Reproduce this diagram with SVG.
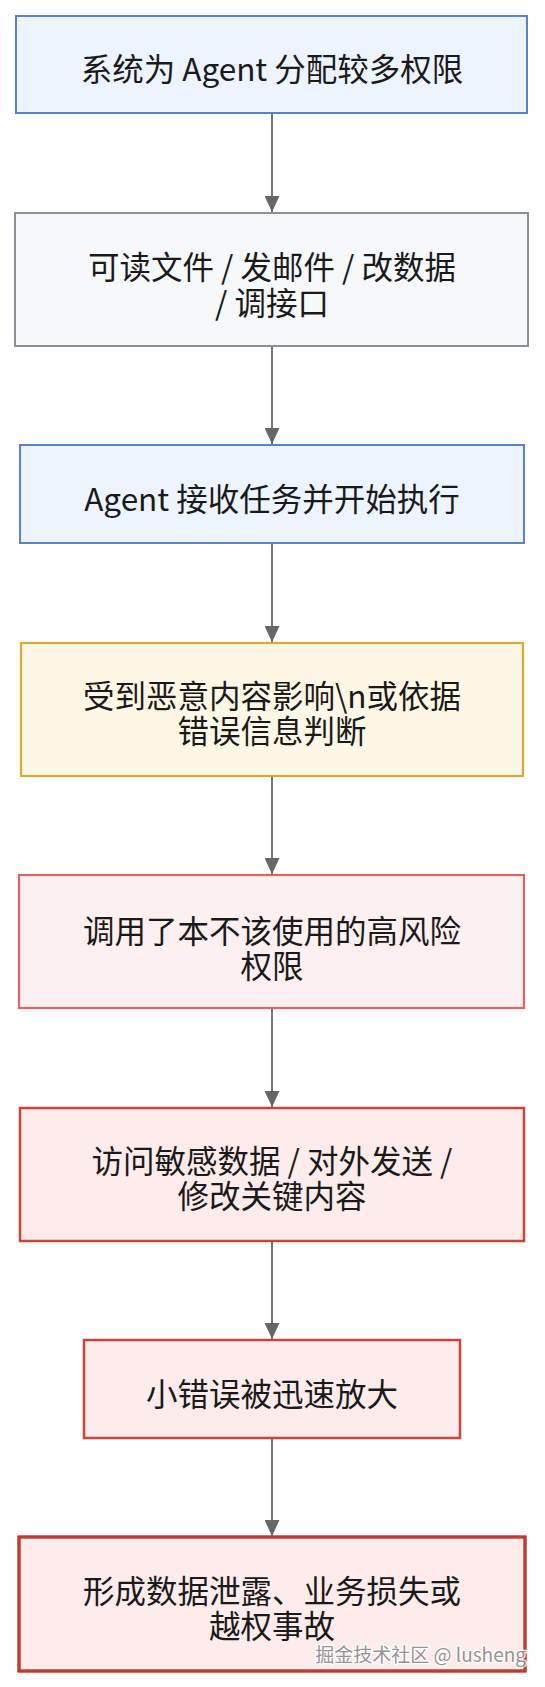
<svg xmlns="http://www.w3.org/2000/svg" width="545" height="1687" viewBox="0 0 545 1687">
<style>
  .t{font-family:"Noto Sans CJK SC","Noto Sans",sans-serif;font-size:31.5px;fill:#1a1a1a;text-anchor:middle;dominant-baseline:central}
  .blue{fill:#edf4fe;stroke:#5583cd;stroke-width:2}
  .gray{fill:#f6f8fa;stroke:#8c9099;stroke-width:2}
  .yel{fill:#fdf8e5;stroke:#d8a934;stroke-width:2.2}
  .lred{fill:#fdf0f0;stroke:#de6464;stroke-width:2.2}
  .red{fill:#fdeceb;stroke:#c8453b;stroke-width:2.5}
  .dred{fill:#fdeceb;stroke:#c0392b;stroke-width:3.4}
  .edge{stroke:#666;stroke-width:1.8;fill:none;marker-end:url(#ah)}
  .wm{font-family:"Noto Sans CJK SC","Noto Sans",sans-serif;font-size:19px;fill:#8a8a8a;stroke:#fff;stroke-width:2.5;paint-order:stroke;text-anchor:end;dominant-baseline:central;opacity:0.9}
</style>
<defs>
  <marker id="ah" viewBox="0 0 16 15" refX="16" refY="7.5" markerWidth="16" markerHeight="15" markerUnits="userSpaceOnUse" orient="auto">
    <path d="M0,0 L16,7.5 L0,15 z" fill="#666"/>
  </marker>
</defs>
<rect width="545" height="1687" fill="#fff"/>
<g id="connectors">
  <line class="edge" x1="272" y1="113" x2="272" y2="212"/>
  <line class="edge" x1="272" y1="346" x2="272" y2="444"/>
  <line class="edge" x1="272" y1="543" x2="272" y2="642"/>
  <line class="edge" x1="272" y1="776" x2="272" y2="874"/>
  <line class="edge" x1="272" y1="1008" x2="272" y2="1107"/>
  <line class="edge" x1="272" y1="1241" x2="272" y2="1339"/>
  <line class="edge" x1="272" y1="1438" x2="272" y2="1536"/>
</g>
<g id="n1">
  <rect class="blue" x="16" y="16" width="511" height="97"/>
  <text class="t" x="272" y="66.5">系统为 Agent 分配较多权限</text>
</g>
<g id="n2">
  <rect class="gray" x="15" y="213" width="513" height="133"/>
  <text class="t" x="272" y="265">可读文件 / 发邮件 / 改数据</text>
  <text class="t" x="272" y="300.5">/ 调接口</text>
</g>
<g id="n3">
  <rect class="blue" x="20" y="445" width="504" height="98"/>
  <text class="t" x="272" y="496.5">Agent 接收任务并开始执行</text>
</g>
<g id="n4">
  <rect class="yel" x="21" y="643" width="502" height="133"/>
  <text class="t" x="272" y="693.5">受到恶意内容影响\n或依据</text>
  <text class="t" x="272" y="728.5">错误信息判断</text>
</g>
<g id="n5">
  <rect class="lred" x="19" y="875" width="505" height="133"/>
  <text class="t" x="272" y="928.5">调用了本不该使用的高风险</text>
  <text class="t" x="272" y="963.5">权限</text>
</g>
<g id="n6">
  <rect class="red" x="20" y="1108" width="504" height="133"/>
  <text class="t" x="272" y="1158.5">访问敏感数据 / 对外发送 /</text>
  <text class="t" x="272" y="1193.5">修改关键内容</text>
</g>
<g id="n7">
  <rect class="red" x="84" y="1340" width="376" height="98"/>
  <text class="t" x="272" y="1391.5">小错误被迅速放大</text>
</g>
<g id="n8">
  <rect class="dred" x="19" y="1537" width="506" height="134"/>
  <text class="t" x="272" y="1588.5">形成数据泄露、业务损失或</text>
  <text class="t" x="272" y="1624">越权事故</text>
</g>
<text class="wm" x="526" y="1653">掘金技术社区 @ lusheng</text>
</svg>
